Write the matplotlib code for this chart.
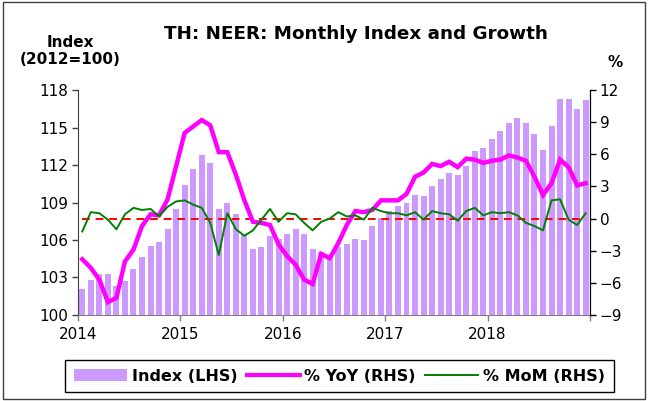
import matplotlib
matplotlib.use('Agg')
import matplotlib.pyplot as plt
import numpy as np
from matplotlib.patches import Patch, Rectangle
from matplotlib.lines import Line2D

plt.rcParams['font.family'] = ['DejaVu Sans']

# monthly data, Jan 2014 .. Dec 2018
start_year = 2014
index_lhs = [102.1, 102.8, 103.3, 103.3, 102.3, 102.7, 103.7, 104.6, 105.5, 105.8, 106.9, 108.5,
             110.4, 111.7, 112.8, 112.2, 108.5, 109.0, 108.1, 106.4, 105.3, 105.4, 106.3, 106.1,
             106.5, 106.9, 106.5, 105.3, 105.0, 104.7, 105.4, 105.7, 106.1, 106.0, 107.1, 107.8,
             108.3, 108.7, 109.0, 109.6, 109.5, 110.3, 110.9, 111.4, 111.2, 111.9, 113.1, 113.4,
             114.1, 114.7, 115.4, 115.8, 115.4, 114.5, 113.2, 115.1, 117.3, 117.3, 116.5, 117.2]
yoy_rhs = [-3.8, -4.6, -5.7, -7.8, -7.4, -4.0, -2.9, -0.7, 0.4, 0.3, 1.8, 4.9,
           8.0, 8.6, 9.2, 8.7, 6.2, 6.2, 4.1, 1.7, -0.3, -0.4, -0.6, -2.4,
           -3.5, -4.3, -5.7, -6.1, -3.3, -3.7, -2.3, -0.6, 0.7, 0.6, 0.8, 1.7,
           1.7, 1.7, 2.3, 3.9, 4.3, 5.1, 4.9, 5.3, 4.8, 5.6, 5.5, 5.2,
           5.4, 5.5, 5.9, 5.7, 5.4, 3.9, 2.2, 3.3, 5.5, 4.8, 3.1, 3.3]
mom_rhs = [-1.2, 0.6, 0.5, -0.1, -1.0, 0.4, 1.0, 0.8, 0.9, 0.2, 1.1, 1.6,
           1.7, 1.3, 1.0, -0.4, -3.4, 0.5, -1.0, -1.6, -1.1, -0.1, 0.9, -0.3,
           0.5, 0.4, -0.4, -1.1, -0.3, 0.0, 0.6, 0.2, 0.3, -0.1, 1.0, 0.7,
           0.5, 0.5, 0.3, 0.6, -0.1, 0.7, 0.5, 0.4, -0.2, 0.7, 1.0, 0.3,
           0.6, 0.5, 0.6, 0.3, -0.4, -0.7, -1.1, 1.7, 1.8, -0.1, -0.6, 0.5]
year_labels = ['2014', '2015', '2016', '2017', '2018']

x = start_year + (np.arange(len(index_lhs)) + 0.5) / 12.0

fig = plt.figure(figsize=(6.48, 4.01), dpi=100)
ax = fig.add_axes([0.1204, 0.2145, 0.79, 0.561])
ax2 = ax.twinx()

ax.bar(x, index_lhs, width=0.7 / 12, color='#CC99FF', zorder=2)
ax.set_ylim(100, 118)
ax.set_yticks(np.arange(100, 119, 3))
ax.set_xlim(2014, 2019)
ax.set_xticks(np.arange(2014, 2020))
ax.set_xticklabels(year_labels + [''])

ax2.plot(x, np.zeros(len(x)), color='red', lw=1.4, ls=(0, (4, 3)), zorder=3)
ax2.plot(x, yoy_rhs, color='#FF00FF', lw=3.2, zorder=4, solid_joinstyle='miter')
ax2.plot(x, mom_rhs, color='#008000', lw=1.4, zorder=5)
ax2.set_ylim(-9, 12)
ax2.set_yticks(np.arange(-9, 13, 3))

for a in (ax, ax2):
    a.spines['top'].set_visible(False)
    a.tick_params(labelsize=11, length=4, width=1)
ax.spines['bottom'].set_color('#808080')
ax.spines['left'].set_color('#404040')
ax2.spines['bottom'].set_visible(False)
ax2.spines['left'].set_visible(False)
ax.tick_params(axis='x', colors='#808080', labelcolor='black', pad=5)
ax.tick_params(axis='y', colors='#404040', labelcolor='black', pad=3)
ax2.tick_params(axis='y', pad=3)

fig.text(0.549, 0.914, 'TH: NEER: Monthly Index and Growth', ha='center', va='center',
         fontsize=13.2, fontweight='bold')
fig.text(0.108, 0.873, 'Index\n(2012=100)', ha='center', va='center',
         fontsize=11, fontweight='bold', linespacing=1.15)
fig.text(0.95, 0.843, '%', ha='center', va='center', fontsize=11, fontweight='bold')

handles = [Patch(facecolor='#CC99FF', edgecolor='none'),
           Line2D([], [], color='#FF00FF', lw=3),
           Line2D([], [], color='#008000', lw=1.4)]
leg = fig.legend(handles, ['Index (LHS)', '% YoY (RHS)', '% MoM (RHS)'], ncol=3,
                 loc='center', bbox_to_anchor=(0.524, 0.062), fancybox=False,
                 edgecolor='black', framealpha=1, prop={'weight': 'bold', 'size': 11.5},
                 handlelength=3.3, columnspacing=0.6, handletextpad=0.3, borderpad=0.55)
leg.get_frame().set_linewidth(1)

fig.patches.append(Rectangle((0.004, 0.004), 0.992, 0.99, transform=fig.transFigure,
                             fill=False, edgecolor='#404040', lw=1))

plt.savefig('out.png', dpi=100)
